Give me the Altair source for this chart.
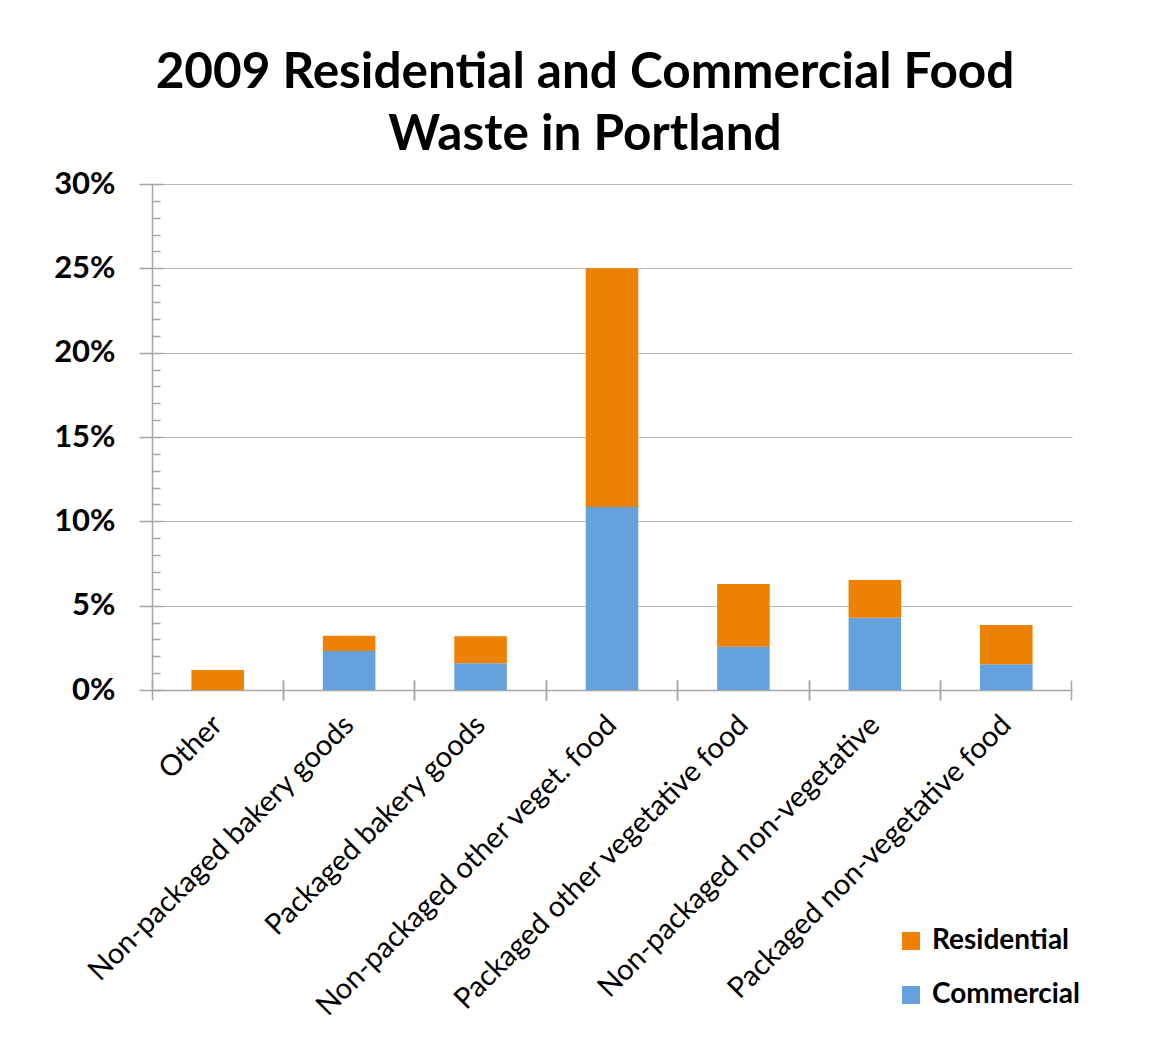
import altair as alt
import pandas as pd

categories = [
    "Other",
    "Non-packaged bakery goods",
    "Packaged bakery goods",
    "Non-packaged other veget. food",
    "Packaged other vegetative food",
    "Non-packaged non-vegetative",
    "Packaged non-vegetative food",
]
commercial = [0.0, 2.31, 1.58, 10.85, 2.57, 4.29, 1.52]
residential = [1.19, 0.91, 1.60, 14.15, 3.71, 2.23, 2.33]
series = ["Residential", "Commercial"]
colors = ["#EC8104", "#65A2DD"]
y_major = [0, 0.05, 0.10, 0.15, 0.20, 0.25, 0.30]
y_minor = [i / 100 for i in range(31) if i % 5 != 0]

rows = []
for c, com, res in zip(categories, commercial, residential):
    rows.append({"cat": c, "series": "Commercial", "value": com / 100, "ord": 0})
    rows.append({"cat": c, "series": "Residential", "value": res / 100, "ord": 1})
df = pd.DataFrame(rows)

W, H = 920, 506
FONT = "Lato"
GRAY = "#a6a6a6"

yscale = alt.Scale(domain=[0, 0.30], nice=False)
xscale = alt.Scale(paddingInner=0, paddingOuter=0)

bars = alt.Chart(df).mark_bar(width=alt.RelativeBandSize(0.4)).encode(
    x=alt.X("cat:N", sort=categories, scale=xscale, title=None,
            axis=alt.Axis(orient="bottom", labelAngle=-45, labelAlign="right",
                          labelBaseline="middle", labelFont=FONT, labelFontSize=29,
                          labelColor="black", labelPadding=30, ticks=False,
                          domain=True, domainColor=GRAY, domainWidth=1.5,
                          grid=False, labelLimit=0)),
    y=alt.Y("value:Q", stack="zero", scale=yscale, title=None,
            axis=alt.Axis(orient="left", values=y_major, format=".0%",
                          labelFont=FONT, labelFontSize=31, labelFontWeight="bold",
                          labelColor="black", tickSize=13, tickColor=GRAY,
                          tickWidth=1.5, labelPadding=24, domainColor=GRAY,
                          domainWidth=1.5, grid=True, gridColor="#b8b8b8",
                          gridWidth=1)),
    color=alt.Color("series:N", scale=alt.Scale(domain=series, range=colors),
                    legend=alt.Legend(title=None, orient="none", legendX=745,
                                      legendY=743, symbolType="square",
                                      symbolSize=324, symbolStrokeWidth=0,
                                      labelFont=FONT, labelFontSize=28,
                                      labelFontWeight="bold", labelColor="black",
                                      labelOffset=7, rowPadding=26)),
    order=alt.Order("ord:Q"),
)

def aux_y(values, size):
    return alt.Chart(df).mark_bar(opacity=0).encode(
        x=alt.X("cat:N", sort=categories, axis=None),
        y=alt.Y("value:Q", stack="zero", title=None, axis=alt.Axis(
            orient="left", values=values, labels=False, domain=False, grid=False,
            tickSize=size, offset=-size, tickColor=GRAY, tickWidth=1.5)),
    )

def aux_x(band_pos):
    return alt.Chart(df).mark_bar(opacity=0).encode(
        x=alt.X("cat:N", sort=categories, title=None, axis=alt.Axis(
            orient="bottom", bandPosition=band_pos, labels=False, domain=False,
            grid=False, ticks=True, tickSize=20, offset=-10, tickColor=GRAY,
            tickWidth=1.5)),
        y=alt.Y("value:Q", stack="zero", axis=None),
    )

chart = alt.layer(
    bars, aux_y(y_minor, 8), aux_y(y_major, 11), aux_x(0), aux_x(1),
).resolve_axis(x="independent", y="independent").properties(
    width=W, height=H,
    title=alt.TitleParams(
        text=["2009 Residential and Commercial Food", "Waste in Portland"],
        font=FONT, fontSize=49.5, fontWeight="bold", color="black",
        anchor="middle", dx=-27, offset=8, lineHeight=62),
    autosize=alt.AutoSizeParams(type="none"),
    padding={"left": 152, "top": 184, "right": 77, "bottom": 370},
).configure_view(stroke=None)

chart.save("out.html", embed_options={"renderer": "svg", "actions": False})
